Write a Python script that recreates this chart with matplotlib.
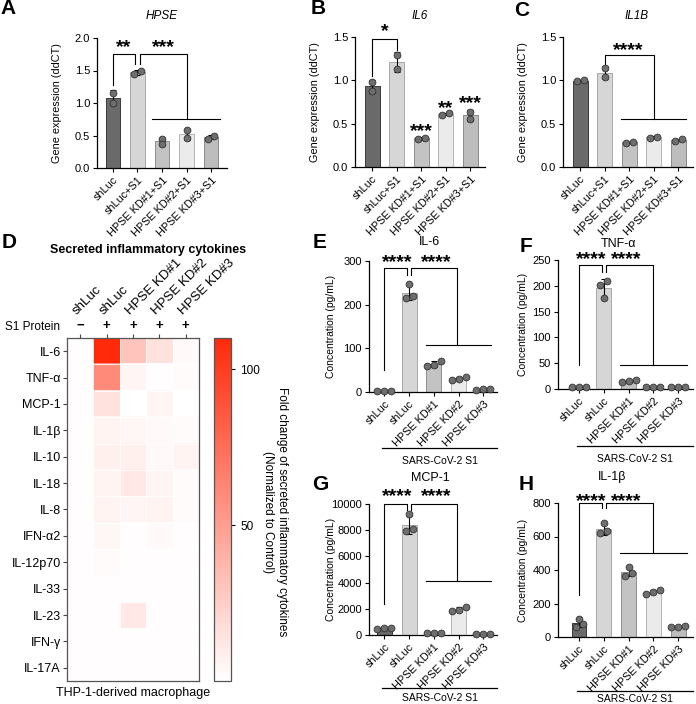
import numpy as np
import matplotlib
matplotlib.use("Agg")
import matplotlib.pyplot as plt
from matplotlib.colors import LinearSegmentedColormap
from matplotlib.lines import Line2D

plt.rcParams["font.family"] = ["Liberation Sans", "DejaVu Sans"]
plt.rcParams["font.size"] = 7.8
plt.rcParams["axes.linewidth"] = 0.9

W, H = 696, 704

# ── data ────────────────────────────────────────────────────────────────
qpcr_groups = ["shLuc", "shLuc+S1", "HPSE KD#1+S1", "HPSE KD#2+S1", "HPSE KD#3+S1"]
hpse_pts = [[1.16, 1.00], [1.44, 1.50], [0.45, 0.37], [0.58, 0.46], [0.45, 0.50]]
il6_pts = [[0.98, 0.88], [1.29, 1.13], [0.32, 0.34], [0.60, 0.62], [0.64, 0.55]]
il1b_pts = [[0.99, 1.00], [1.14, 1.04], [0.28, 0.29], [0.34, 0.35], [0.30, 0.32]]

elisa_groups = ["shLuc", "shLuc", "HPSE KD#1", "HPSE KD#2", "HPSE KD#3"]
elisa_il6 = [[2, 2, 2], [248, 215, 220], [72, 60, 62], [28, 35, 30], [5, 6, 7]]
elisa_tnf = [[3, 3, 3], [210, 202, 176], [14, 16, 17], [3, 3, 3], [3, 3, 3]]
elisa_mcp1 = [[480, 500, 520], [9200, 7950, 8100], [150, 150, 150],
              [2150, 1850, 1900], [80, 80, 80]]
elisa_il1b = [[110, 62, 80], [680, 620, 630], [420, 365, 385],
              [280, 255, 270], [60, 65, 62]]

heat_cols = ["shLuc", "shLuc", "HPSE KD#1", "HPSE KD#2", "HPSE KD#3"]
heat_s1 = ["\u2212", "+", "+", "+", "+"]
heat_rows = ["IL-6", "TNF-\u03b1", "MCP-1", "IL-1\u03b2", "IL-10", "IL-18", "IL-8",
             "IFN-\u03b12", "IL-12p70", "IL-33", "IL-23", "IFN-\u03b3", "IL-17A"]
heat_vals = [
    [1, 110, 30, 15, 3],
    [1, 60, 5, 1, 2],
    [1, 15, 0, 5, 0],
    [1, 6, 4, 3, 2],
    [1, 8, 8, 3, 6],
    [1, 6, 12, 5, 2],
    [1, 6, 5, 6, 2],
    [1, 4, 1, 3, 1],
    [1, 2, 1, 1, 1],
    [1, 1, 1, 1, 1],
    [1, 1, 12, 1, 1],
    [1, 1, 1, 1, 1],
    [1, 1, 1, 1, 1],
]

# ── style ───────────────────────────────────────────────────────────────
BAR_COLORS = ["#6a6a6a", "#d6d6d6", "#c3c3c3", "#ebebeb", "#bdbdbd"]
BAR_EDGES = ["#3a3a3a", "#a8a8a8", "#8f8f8f", "#b5b5b5", "#8a8a8a"]
DOT = "#6e6e6e"


def px_axes(fig, left, top, right, bottom):
    return fig.add_axes([left / W, 1 - bottom / H, (right - left) / W, (bottom - top) / H])


def swarm(vals, ymax, d=0.28, thresh=0.035):
    order = np.argsort(vals)
    offs = np.zeros(len(vals))
    clusters, cur = [], [order[0]]
    for a, b in zip(order[:-1], order[1:]):
        if (vals[b] - vals[a]) / ymax < thresh:
            cur.append(b)
        else:
            clusters.append(cur)
            cur = [b]
    clusters.append(cur)
    for c in clusters:
        k = len(c)
        for j, idx in enumerate(c):
            offs[idx] = (j - (k - 1) / 2) * d
    return offs


def bar_panel(ax, pts, groups, ymax, yticks, fmt, xlim):
    x = np.arange(len(pts))
    means = [np.mean(p) for p in pts]
    sds = [np.std(p, ddof=1) for p in pts]
    ax.bar(x, means, width=0.6, color=BAR_COLORS, edgecolor=BAR_EDGES, linewidth=0.7, zorder=1)
    ax.errorbar(x, means, yerr=sds, fmt="none", ecolor="black", elinewidth=0.8,
                capsize=2.5, capthick=0.8, zorder=2)
    for i, p in enumerate(pts):
        ax.scatter(i + swarm(np.array(p, float), ymax), p, s=24, c=DOT,
                   edgecolors="#333333", linewidths=0.6, zorder=3, clip_on=False)
    ax.set_ylim(0, ymax)
    ax.set_xlim(*xlim)
    ax.set_yticks(yticks)
    ax.set_yticklabels([fmt.format(t) for t in yticks], fontsize=8)
    ax.set_xticks(x)
    ax.set_xticklabels(groups, rotation=45, ha="right", rotation_mode="anchor", fontsize=7.8)
    ax.spines["top"].set_visible(False)
    ax.spines["right"].set_visible(False)
    ax.tick_params(length=3, width=0.8, pad=2)


def bracket(ax, x1, x2, y1, y2, ytop):
    ax.plot([x1, x1, x2, x2], [y1, ytop, ytop, y2], color="black", lw=0.8,
            clip_on=False, zorder=4)


def hline(ax, x1, x2, y):
    ax.plot([x1, x2], [y, y], color="black", lw=0.8, clip_on=False, zorder=4)


def stars(ax, x, y, s):
    # y is roughly where the asterisks' visual centre should sit
    ax.annotate(s, (x, y), xytext=(0, -8), textcoords="offset pixels", ha="center",
                va="baseline", fontsize=14, fontweight="bold", zorder=5,
                annotation_clip=False)


def ftext(fig, x, y, s, **kw):
    return fig.text(x / W, 1 - y / H, s, **kw)


def letter(fig, x, y, s):
    ftext(fig, x, y, s, ha="center", va="center", fontsize=15, fontweight="bold")


def ylabel_at(ax, x, text, size):
    pos = ax.get_position()
    ax.set_ylabel(text, fontsize=size)
    ax.yaxis.set_label_coords((x / W - pos.x0) / pos.width, 0.5)


def s1_underline(fig, x1, x2, y, ytxt):
    fig.add_artist(Line2D([x1 / W, x2 / W], [1 - y / H, 1 - y / H], color="black", lw=0.9))
    ftext(fig, (x1 + x2) / 2, ytxt, "SARS-CoV-2 S1", ha="center", va="center", fontsize=7.5)


fig = plt.figure(figsize=(W / 100, H / 100), dpi=100)

# ── A-C: qPCR ───────────────────────────────────────────────────────────
axA = px_axes(fig, 97, 38, 227, 168)
bar_panel(axA, hpse_pts, qpcr_groups, 2.0, [0, 0.5, 1.0, 1.5, 2.0], "{:.1f}", (-0.65, 4.65))
ftext(fig, 162, 16, "HPSE", fontstyle="italic", fontsize=8.5, ha="center", va="center")
bracket(axA, 0, 0.88, 1.27, 1.6, 1.75)
bracket(axA, 1.12, 3.0, 1.6, 0.75, 1.75)
hline(axA, 1.58, 4.35, 0.75)
stars(axA, 0.44, 1.91, "**")
stars(axA, 2.05, 1.91, "***")

axB = px_axes(fig, 355, 37, 485, 167)
bar_panel(axB, il6_pts, qpcr_groups, 1.5, [0, 0.5, 1.0, 1.5], "{:.1f}", (-0.7, 4.6))
ftext(fig, 420, 16, "IL6", fontstyle="italic", fontsize=8.5, ha="center", va="center")
bracket(axB, 0, 1.0, 1.05, 1.35, 1.48)
stars(axB, 0.5, 1.60, "*")
stars(axB, 2, 0.45, "***")
stars(axB, 3, 0.715, "**")
stars(axB, 4, 0.77, "***")

axC = px_axes(fig, 563, 37, 693, 167)
bar_panel(axC, il1b_pts, qpcr_groups, 1.5, [0, 0.5, 1.0, 1.5], "{:.1f}", (-0.7, 4.6))
ftext(fig, 637, 16, "IL1B", fontstyle="italic", fontsize=8.5, ha="center", va="center")
bracket(axC, 1.0, 3.0, 1.19, 0.55, 1.29)
hline(axC, 1.67, 4.3, 0.55)
stars(axC, 1.96, 1.38, "****")

# ── D: heatmap ──────────────────────────────────────────────────────────
wr = LinearSegmentedColormap.from_list("wr", ["#ffffff", "#ff2a0a"])
axD = px_axes(fig, 67, 338, 199, 681)
im = axD.imshow(np.array(heat_vals, float), cmap=wr, vmin=0, vmax=110, aspect="auto",
                interpolation="nearest")
axD.set_xticks(np.arange(len(heat_cols)))
axD.set_xticklabels(heat_s1, fontsize=9.5, fontweight="bold")
axD.xaxis.tick_top()
axD.set_yticks(np.arange(len(heat_rows)))
axD.set_yticklabels(heat_rows, fontsize=9)
axD.set_xticks(np.arange(-0.5, len(heat_cols)), minor=True)
axD.set_yticks(np.arange(-0.5, len(heat_rows)), minor=True)
axD.grid(which="minor", color="white", lw=0.6)
axD.tick_params(which="minor", length=0)
axD.tick_params(which="major", length=3, width=0.8, pad=1.5, color="#444444")
for sp in axD.spines.values():
    sp.set_color("#555555")
for i, name in enumerate(heat_cols):
    axD.annotate(name, (i, -0.5), xytext=(-1, 21), textcoords="offset pixels",
                 rotation=45, ha="left", va="bottom", rotation_mode="anchor", fontsize=9.5)
ftext(fig, 60, 327, "S1 Protein", ha="right", va="center", fontsize=8.5)
ftext(fig, 148, 250, "Secreted inflammatory cytokines", ha="center", va="center",
      fontsize=9, fontweight="bold")
ftext(fig, 133, 693, "THP-1-derived macrophage", ha="center", va="center", fontsize=9)

cax = px_axes(fig, 214, 338, 231, 681)
cb = fig.colorbar(im, cax=cax, ticks=[50, 100])
cb.outline.set_edgecolor("#555555")
cax.tick_params(labelsize=8.5, length=3, width=0.8)
ftext(fig, 275, 512,
      "Fold change of secreted inflammatory cytokines\n(Normalized to Control)",
      rotation=270, ha="center", va="center", fontsize=8.5, multialignment="center",
      linespacing=1.25)

# ── E-H: ELISA ──────────────────────────────────────────────────────────
axE = px_axes(fig, 369, 261, 497, 392)
bar_panel(axE, elisa_il6, elisa_groups, 300, [0, 100, 200, 300], "{:d}", (-0.62, 4.55))
ftext(fig, 430, 242, "IL-6", fontsize=9, ha="center", va="center")
bracket(axE, 0, 0.93, 50, 268, 285)
bracket(axE, 1.07, 2.95, 268, 108, 285)
hline(axE, 1.7, 4.3, 108)
stars(axE, 0.5, 305, "****")
stars(axE, 2.1, 305, "****")

axF = px_axes(fig, 558, 260, 693, 389)
bar_panel(axF, elisa_tnf, elisa_groups, 250, [0, 50, 100, 150, 200, 250], "{:d}",
          (-0.85, 4.6))
ftext(fig, 618, 244, "TNF-\u03b1", fontsize=9, ha="center", va="center")
bracket(axF, 0, 0.93, 47, 227, 240)
bracket(axF, 1.07, 3.0, 227, 47, 240)
hline(axF, 1.65, 4.35, 47)
stars(axF, 0.48, 258, "****")
stars(axF, 1.9, 258, "****")

axG = px_axes(fig, 369, 504, 497, 635)
bar_panel(axG, elisa_mcp1, elisa_groups, 10000, [0, 2000, 4000, 6000, 8000, 10000], "{:d}",
          (-0.62, 4.55))
ftext(fig, 430, 478, "MCP-1", fontsize=9, ha="center", va="center")
bracket(axG, 0, 0.93, 2400, 9560, 10000)
bracket(axG, 1.07, 2.95, 9560, 4160, 10000)
hline(axG, 1.7, 4.3, 4160)
stars(axG, 0.5, 10800, "****")
stars(axG, 2.1, 10800, "****")

axH = px_axes(fig, 558, 503, 693, 637)
bar_panel(axH, elisa_il1b, elisa_groups, 800, [0, 200, 400, 600, 800], "{:d}", (-0.85, 4.6))
ftext(fig, 612, 477, "IL-1\u03b2", fontsize=9, ha="center", va="center")
bracket(axH, 0, 0.93, 250, 770, 800)
bracket(axH, 1.07, 3.0, 770, 504, 800)
hline(axH, 1.65, 4.35, 504)
stars(axH, 0.48, 828, "****")
stars(axH, 1.9, 828, "****")

s1_underline(fig, 382, 497, 448, 461)
s1_underline(fig, 577, 693, 446, 459)
s1_underline(fig, 382, 497, 688, 698)
s1_underline(fig, 577, 693, 691, 699)

for ax, x in [(axA, 62), (axB, 320), (axC, 528)]:
    ylabel_at(ax, x, "Gene expression (ddCT)", 7.8)
for ax, x in [(axE, 336), (axF, 528), (axG, 336), (axH, 528)]:
    ylabel_at(ax, x, "Concentration (pg/mL)", 7.5)

letter(fig, 8, 9, "A")
letter(fig, 318, 9, "B")
letter(fig, 522, 10, "C")
letter(fig, 9, 243, "D")
letter(fig, 320, 243, "E")
letter(fig, 526, 247, "F")
letter(fig, 320, 485, "G")
letter(fig, 526, 485, "H")

fig.savefig("out.png", dpi=100)
